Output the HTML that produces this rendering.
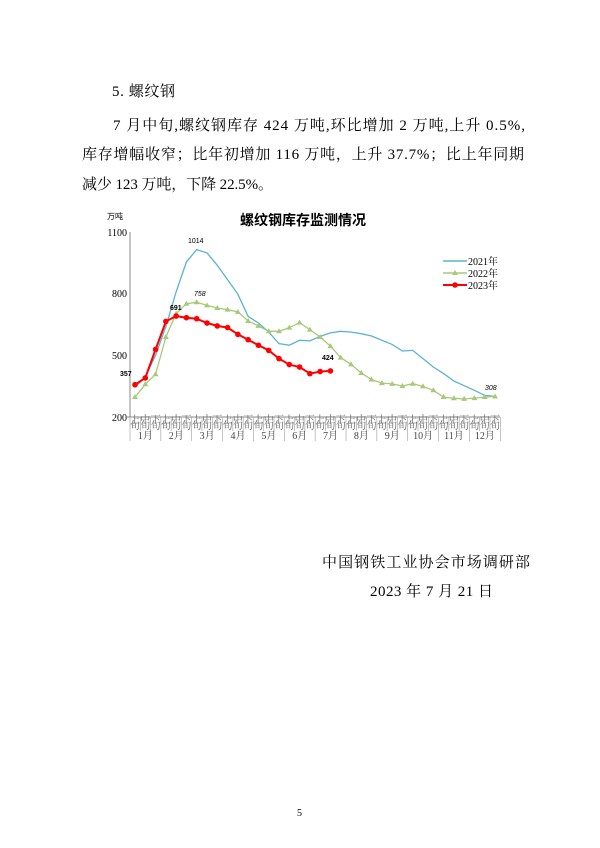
<!DOCTYPE html>
<html><head><meta charset="utf-8"><style>
html,body{margin:0;padding:0;background:#fff;}
svg{display:block;}
.s{font-family:"Liberation Serif","Noto Serif CJK SC",serif;font-size:15px;fill:#000;}
.a{font-family:"Liberation Serif","Noto Serif CJK SC",serif;font-size:10px;fill:#000;}
.t{font-family:"Liberation Sans","Noto Sans CJK SC",sans-serif;fill:#000;}
</style></head><body>
<svg id="g" width="600" height="848" viewBox="0 0 600 848" xmlns="http://www.w3.org/2000/svg">
<text class="s" x="112" y="96" textLength="63">5. 螺纹钢</text>
<text class="s" x="113" y="130" textLength="412" lengthAdjust="spacing">7 月中旬,螺纹钢库存 424 万吨,环比增加 2 万吨,上升 0.5%,</text>
<text class="s" x="82" y="159" textLength="442" lengthAdjust="spacing">库存增幅收窄；比年初增加 116 万吨，上升 37.7%；比上年同期</text>
<text class="s" x="82" y="189" textLength="191" lengthAdjust="spacing">减少 123 万吨，下降 22.5%。</text>
<text class="s" x="322" y="567" textLength="208" lengthAdjust="spacing">中国钢铁工业协会市场调研部</text>
<text class="s" x="370" y="596" textLength="123" lengthAdjust="spacing">2023 年 7 月 21 日</text>
<text class="a" x="297" y="816">5</text>
<text class="t" x="303" y="225" font-size="14" font-weight="bold" text-anchor="middle">螺纹钢库存监测情况</text>
<text class="t" x="107" y="219" font-size="8">万吨</text>
<g class="a" text-anchor="end" font-size="11">
<text x="127" y="236">1100</text><text x="127" y="297">800</text><text x="127" y="359">500</text><text x="127" y="421">200</text>
</g>
<line x1="130" y1="232" x2="130" y2="417" stroke="#888" stroke-width="1"/>
<line x1="126" y1="417" x2="500" y2="417" stroke="#888" stroke-width="1"/>
<g id="ax"></g>
<g id="ser"></g>
<g font-size="10" class="a">
<line x1="443" y1="261" x2="467" y2="261" stroke="#5bb3d1" stroke-width="1.5"/>
<text x="468" y="265">2021年</text>
<line x1="443" y1="273" x2="467" y2="273" stroke="#a8c97a" stroke-width="1.5"/>
<polygon points="455,270 458,275 452,275" fill="#a8c97a"/>
<text x="468" y="277">2022年</text>
<line x1="443" y1="285" x2="467" y2="285" stroke="#f00" stroke-width="2"/>
<circle cx="455" cy="285" r="2.8" fill="#f00"/>
<text x="468" y="289">2023年</text>
</g>
<g class="t" font-size="7">
<text x="188" y="243">1014</text>
<text x="194" y="296" font-style="italic">758</text>
<text x="170" y="310" font-weight="bold">691</text>
<text x="120" y="376" font-weight="bold">357</text>
<text x="322" y="360" font-weight="bold">424</text>
<text x="485" y="390" font-style="italic">308</text>
</g>
</svg>
<script>
var NS="http://www.w3.org/2000/svg";
function X(i){return 135+i*10.286;}
function Y(v){return 417-(v-200)*0.2056;}
function el(p,n,a,t){var e=document.createElementNS(NS,n);for(var k in a)e.setAttribute(k,a[k]);if(t)e.textContent=t;p.appendChild(e);return e;}
var ax=document.getElementById("ax"),ser=document.getElementById("ser");
for(var i=0;i<=36;i++){var x=130+i*10.286;el(ax,"line",{x1:x,y1:417,x2:x,y2:(i%3==0?441:431),stroke:"#999","stroke-width":0.6});}
var sub=["上旬","中旬","下旬"];
for(var i=0;i<36;i++){var x=135+i*10.286;
 el(ax,"text",{x:x,y:423,"font-size":4,"text-anchor":"middle",class:"a",style:"fill:#666"},sub[i%3][0]);
 el(ax,"text",{x:x,y:429,"font-size":4,"text-anchor":"middle",class:"a",style:"fill:#666"},sub[i%3][1]);}
for(var m=0;m<12;m++){el(ax,"text",{x:130+m*30.86+15.4,y:439,"font-size":6,"text-anchor":"middle",class:"a",style:"fill:#444"},(m+1)+"月");}
var d21=[346,395,500,640,808,954,1014,998,938,868,797,690,657,613,557,549,573,570,592,609,617,613,605,594,573,553,521,524,484,443,411,375,352,330,305,300];
var d22=[297,359,408,589,703,751,758,743,730,722,711,667,643,617,617,635,659,625,589,545,489,456,414,382,365,361,351,362,349,330,297,291,288,292,297,300];
var d23=[357,390,529,665,691,683,678,657,643,635,602,576,549,524,484,455,443,411,421,424];
function pts(d){return d.map(function(v,i){return X(i).toFixed(1)+","+Y(v).toFixed(1);}).join(" ");}
el(ser,"polyline",{points:pts(d21),fill:"none",stroke:"#5bb3d1","stroke-width":1.3});
el(ser,"polyline",{points:pts(d22),fill:"none",stroke:"#a8c97a","stroke-width":1.3});
d22.forEach(function(v,i){var x=X(i),y=Y(v);el(ser,"polygon",{points:x+","+(y-3)+" "+(x+3)+","+(y+2)+" "+(x-3)+","+(y+2),fill:"#a8c97a"});});
el(ser,"polyline",{points:pts(d23),fill:"none",stroke:"#f00","stroke-width":2});
d23.forEach(function(v,i){el(ser,"circle",{cx:X(i),cy:Y(v),r:2.8,fill:"#f00"});});
</script>
</body></html>
